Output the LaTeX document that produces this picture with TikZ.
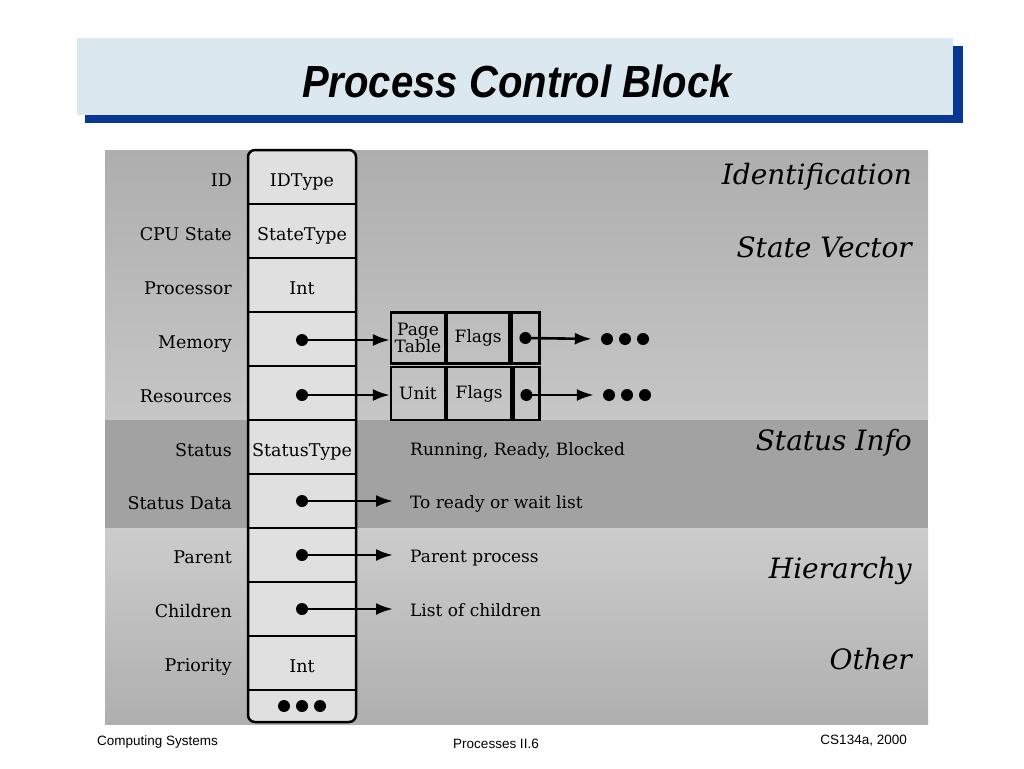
\documentclass[tikz,border=0pt]{standalone}
\usepackage{fontspec}
\setmainfont{DejaVu Serif}
\newfontfamily\arialf{Liberation Sans}
\usetikzlibrary{arrows.meta}
\definecolor{titlebg}{HTML}{DCE8F0}
\definecolor{shadowblue}{HTML}{0A3796}
\definecolor{cellfill}{HTML}{E0E0E0}
\definecolor{bgA}{HTML}{AEAEAE}
\definecolor{bgB}{HTML}{C6C6C6}
\definecolor{bgS}{HTML}{A2A2A2}
\definecolor{bgC}{HTML}{CCCCCC}
\definecolor{bgD}{HTML}{AFAFAF}
\begin{document}
\begin{tikzpicture}[x=1pt,y=-1pt,
  txt/.style={inner sep=0pt,text height=18.5pt,text depth=0.5pt},
  lbl/.style={txt,anchor=east,font=\fontsize{17.5}{19}\selectfont},
  pcbcell/.style={minimum width=108pt,minimum height=54pt,inner sep=0pt,text height=18.5pt,text depth=0.5pt,font=\fontsize{17.5}{19}\selectfont},
  desc/.style={txt,anchor=west,font=\fontsize{17}{19}\selectfont},
  cat/.style={inner sep=0pt,anchor=east,font=\fontsize{28}{30}\selectfont\itshape},
  ptrdot/.style={circle,fill=black,inner sep=0pt,minimum size=12pt},
  ptr/.style={line width=2.6pt,-{Latex[length=17pt,width=12pt]}},
  fld/.style={draw,line width=2.2pt,inner sep=0pt,minimum height=51pt,font=\fontsize{17}{19}\selectfont,align=center},
  threedots/.style={minimum width=54pt,minimum height=12pt,inner sep=0pt,
    path picture={\fill (path picture bounding box.center) ++(-18pt,0pt) circle (6pt) ++(18pt,0pt) circle (6pt) ++(18pt,0pt) circle (6pt);}},
  foot/.style={font=\arialf\fontsize{13.5}{15}\selectfont,inner sep=0pt}
]
\useasboundingbox (0,0) rectangle (1024,768);
\fill[white] (0,0) rectangle (1024,768);

% title
\fill[shadowblue] (85,46) rectangle (963,123);
\fill[titlebg] (77,38) rectangle (953,115);
\node[inner sep=0pt] (title) at (517,81) {\scalebox{0.89}[1]{\arialf\bfseries\itshape\fontsize{45}{48}\selectfont Process Control Block}};

% background
\shade[top color=bgA,bottom color=bgB] (105,150) rectangle (928,420);
\fill[bgS] (105,420) rectangle (928,528);
\shade[top color=bgC,bottom color=bgD] (105,528) rectangle (928,724);

% PCB column
\fill[cellfill,rounded corners=7pt] (248,150) rectangle (356,722);
\node[pcbcell] (c1) at (302,177) {IDType};
\node[pcbcell] (c2) at (302,231) {StateType};
\node[pcbcell] (c3) at (302,285) {Int};
\node[pcbcell] (c4) at (302,339) {};
\node[pcbcell] (c5) at (302,393) {};
\node[pcbcell] (c6) at (302,447) {StatusType};
\node[pcbcell] (c7) at (302,501) {};
\node[pcbcell] (c8) at (302,555) {};
\node[pcbcell] (c9) at (302,609) {};
\node[pcbcell] (c10) at (302,663) {Int};
\node[threedots] (c11) at (302,706) {};
\foreach \c in {c1,c2,c3,c4,c5,c6,c7,c8,c9,c10}
  \draw[line width=2.5pt] (\c.south west) -- (\c.south east);
\draw[line width=2.5pt,rounded corners=7pt] (248,150) rectangle (356,722);

% left labels
\node[lbl] (l1) at (232,177) {ID};
\node[lbl] (l2) at (232,231) {CPU State};
\node[lbl] (l3) at (232,285) {Processor};
\node[lbl] (l4) at (232,339) {Memory};
\node[lbl] (l5) at (232,393) {Resources};
\node[lbl] (l6) at (232,447) {Status};
\node[lbl] (l7) at (232,500) {Status Data};
\node[lbl] (l8) at (232,554) {Parent};
\node[lbl] (l9) at (232,608) {Children};
\node[lbl] (l10) at (232,662) {Priority};

% memory
\node[fld,minimum width=54pt] (pt) at (418,338) {Page\\[-2pt]Table};
\node[fld,minimum width=62pt,anchor=west] (mfl) at (pt.east) {Flags};
\node[fld,minimum width=28pt,anchor=west] (mnx) at (mfl.east) {};
\node[ptrdot] (md) at (302,340) {};
\node[ptrdot] (md2) at (mnx.center) {};
\node[threedots] (me) at (625,339) {};
\draw[ptr] (md.center) -- (pt.west |- md);
\draw[ptr,shorten >=6pt] (md2.center) -- (me.west);

% resources
\node[fld,minimum width=54pt,minimum height=53pt] (un) at (418,393.5) {Unit};
\node[fld,minimum width=64pt,minimum height=53pt,anchor=west] (rfl) at (un.east) {Flags};
\node[fld,minimum width=26pt,minimum height=53pt,anchor=west] (rnx) at (rfl.east) {};
\node[ptrdot] (rd) at (302,395) {};
\node[ptrdot] (rd2) at (rnx.center |- rd) {};
\node[threedots] (re) at (627,395) {};
\draw[ptr] (rd.center) -- (un.west |- rd);
\draw[ptr,shorten >=6pt] (rd2.center) -- (re.west);

% status and pointers
\node[desc] (st) at (410,446) {Running, Ready, Blocked};
\node[desc] (sd) at (410,499) {To ready or wait list};
\node[desc] (pp) at (410,553) {Parent process};
\node[desc] (lc) at (410,607) {List of children};
\node[ptrdot] (sdd) at (302,501) {};
\node[ptrdot] (ppd) at (302,555) {};
\node[ptrdot] (lcd) at (302,609) {};
\draw[ptr,shorten >=17pt] (sdd.center) -- (sd.west |- sdd);
\draw[ptr,shorten >=17pt] (ppd.center) -- (pp.west |- ppd);
\draw[ptr,shorten >=17pt] (lcd.center) -- (lc.west |- lcd);

% categories
\node[cat] (k1) at (912,177) {Identification};
\node[cat] (k2) at (912,247) {State Vector};
\node[cat] (k3) at (912,443) {Status Info};
\node[cat] (k4) at (912,571) {Hierarchy};
\node[cat] (k5) at (912,659) {Other};

% footer
\node[foot,anchor=west] (f1) at (97,742) {Computing Systems};
\node[foot] (f2) at (496,744) {Processes II.6};
\node[foot,anchor=east] (f3) at (907,741) {CS134a, 2000};
\end{tikzpicture}
\end{document}
